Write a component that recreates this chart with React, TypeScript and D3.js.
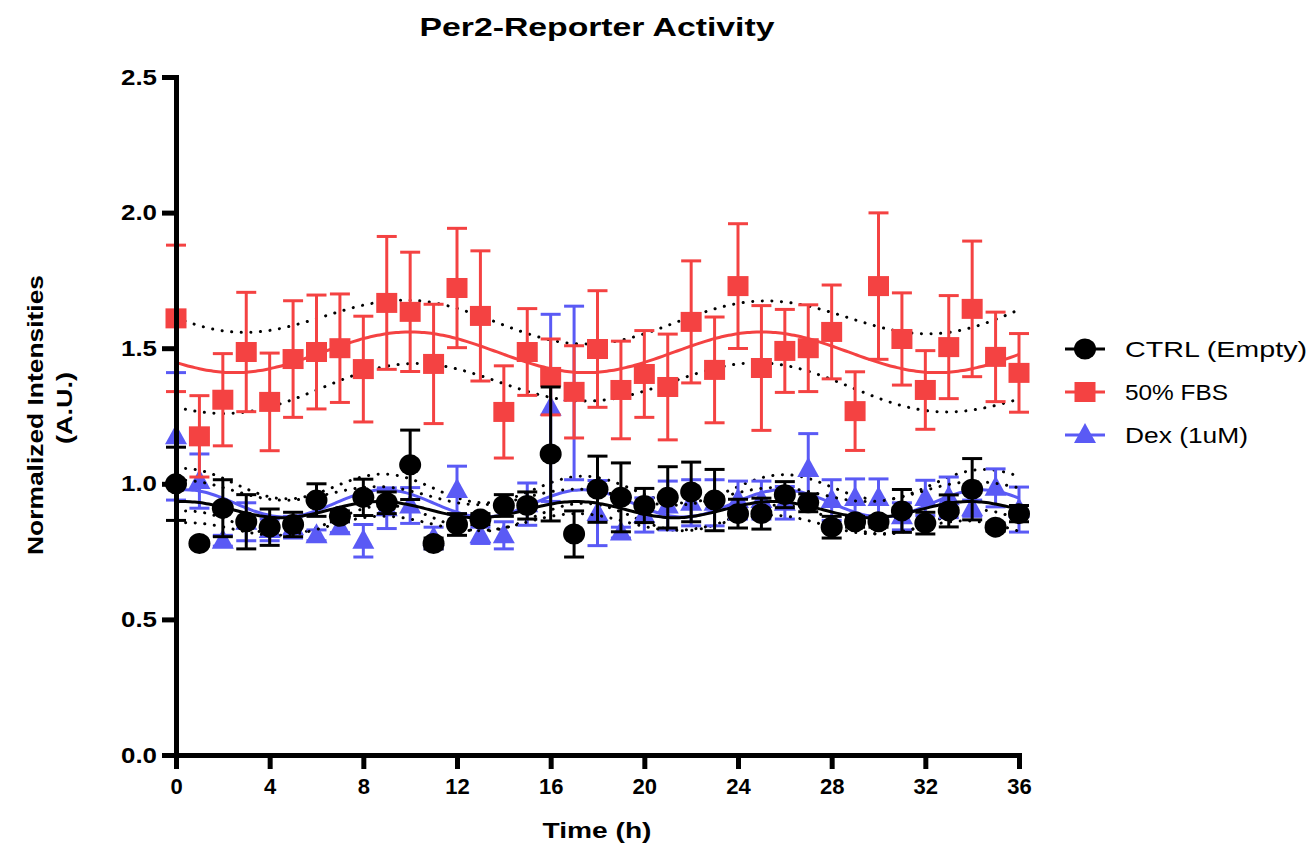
import React, { useEffect, useRef } from 'react';
import * as d3 from 'd3';

const hours = [0, 1, 2, 3, 4, 5, 6, 7, 8, 9, 10, 11, 12, 13, 14, 15, 16, 17, 18, 19, 20, 21, 22, 23, 24, 25, 26, 27, 28, 29, 30, 31, 32, 33, 34, 35, 36];

const ctrlMean = [1.0, 0.78, 0.91, 0.86, 0.84, 0.85, 0.94, 0.88, 0.95, 0.93, 1.07, 0.78, 0.85, 0.87, 0.92, 0.92, 1.11, 0.815, 0.98, 0.95, 0.92, 0.95, 0.97, 0.94, 0.89, 0.89, 0.96, 0.93, 0.84, 0.86, 0.86, 0.9, 0.855, 0.9, 0.98, 0.84, 0.89];
const ctrlErr = [0.135, 0.01, 0.105, 0.1, 0.067, 0.045, 0.06, 0.02, 0.067, 0.04, 0.128, 0.02, 0.04, 0.02, 0.04, 0.05, 0.247, 0.085, 0.122, 0.127, 0.063, 0.113, 0.11, 0.113, 0.053, 0.057, 0.048, 0.033, 0.04, 0.02, 0.02, 0.079, 0.04, 0.059, 0.113, 0.015, 0.03];

const fbsMean = [1.61, 1.175, 1.31, 1.486, 1.302, 1.46, 1.486, 1.5, 1.423, 1.667, 1.634, 1.442, 1.722, 1.619, 1.265, 1.486, 1.394, 1.339, 1.497, 1.346, 1.405, 1.357, 1.597, 1.42, 1.729, 1.427, 1.49, 1.5, 1.56, 1.268, 1.729, 1.534, 1.346, 1.504, 1.645, 1.468, 1.409];
const fbsErr = [0.27, 0.15, 0.17, 0.22, 0.18, 0.215, 0.21, 0.2, 0.195, 0.245, 0.22, 0.22, 0.22, 0.24, 0.17, 0.16, 0.14, 0.17, 0.215, 0.18, 0.16, 0.195, 0.225, 0.195, 0.23, 0.23, 0.153, 0.16, 0.173, 0.145, 0.27, 0.17, 0.145, 0.19, 0.25, 0.165, 0.145];

const dexMean = [1.175, 1.01, 0.79, 0.86, 0.83, 0.84, 0.81, 0.84, 0.79, 0.91, 0.92, 0.8, 0.977, 0.81, 0.81, 0.925, 1.28, 1.335, 0.892, 0.82, 0.885, 0.92, 0.93, 0.93, 0.94, 0.94, 0.93, 1.055, 0.94, 0.948, 0.948, 0.88, 0.948, 0.95, 0.91, 0.985, 0.905];
const dexErr = [0.235, 0.1, 0.02, 0.07, 0.04, 0.04, 0.02, 0.02, 0.06, 0.075, 0.066, 0.04, 0.088, 0.03, 0.05, 0.078, 0.345, 0.32, 0.12, 0.02, 0.063, 0.09, 0.085, 0.085, 0.07, 0.07, 0.06, 0.13, 0.075, 0.07, 0.07, 0.05, 0.065, 0.075, 0.03, 0.07, 0.083];

const seriesNames = ['CTRL (Empty)', '50% FBS', 'Dex (1uM)'];
const seriesColors = ['#000000', '#f44242', '#5a5af5'];
const seriesShapes = ['circle', 'square', 'triangle'];

// sine wave fit per series (ctrl, fbs, dex): baseline, amplitude, period (h), peak time (h)
const fitMean = [0.905, 1.485, 0.928];
const fitAmp = [0.03, 0.075, 0.05];
const fitPeriod = [8.4, 15, 8.5];
const fitPeak = [0.3, 10, 0.4];
// 95% CI half width in the middle and at the ends of the time range
const bandMid = [0.045, 0.105, 0.05];
const bandEdge = [0.08, 0.165, 0.08];

const yTicks = [0, 0.5, 1.0, 1.5, 2.0, 2.5];
const xTicks = [0, 4, 8, 12, 16, 20, 24, 28, 32, 36];

const FONT = 'Liberation Sans, Arial, Helvetica, sans-serif';

function drawMarker(g, shape, cx, cy, color) {
	if (shape === 'circle') {
		g.append('ellipse').attr('cx', cx).attr('cy', cy).attr('rx', 11).attr('ry', 10.5).attr('fill', color);
	} else if (shape === 'square') {
		g.append('rect').attr('x', cx - 10.5).attr('y', cy - 10).attr('width', 21).attr('height', 20).attr('fill', color);
	} else {
		g.append('path')
			.attr('d', `M${cx},${cy - 12}L${cx + 11},${cy + 8}L${cx - 11},${cy + 8}Z`)
			.attr('fill', color);
	}
}

export default function App() {
	const ref = useRef(null);

	useEffect(() => {
		const svg = d3.select(ref.current);
		svg.selectAll('*').remove();

		const x = d3.scaleLinear().domain([0, 36]).range([176, 1019]);
		const y = d3.scaleLinear().domain([0, 2.5]).range([755, 77]);

		const means = [ctrlMean, fbsMean, dexMean];
		const errs = [ctrlErr, fbsErr, dexErr];

		const fitAt = (s, t) => fitMean[s] + fitAmp[s] * Math.cos((2 * Math.PI * (t - fitPeak[s])) / fitPeriod[s]);
		const bandAt = (s, t) => bandMid[s] + (bandEdge[s] - bandMid[s]) * Math.pow((t - 18) / 18, 2);
		const tFine = d3.range(0, 36.001, 0.2);

		const line = d3.line().x((d) => x(d[0])).y((d) => y(d[1])).curve(d3.curveMonotoneX);

		// dex first, then fbs, ctrl on top
		[2, 1, 0].forEach((s) => {
			const g = svg.append('g').attr('class', 'series-' + s);
			const color = seriesColors[s];

			// confidence band (dotted)
			[1, -1].forEach((sign) => {
				g.append('path')
					.attr('d', line(tFine.map((t) => [t, fitAt(s, t) + sign * bandAt(s, t)])))
					.attr('fill', 'none')
					.attr('stroke', '#000')
					.attr('stroke-width', 3)
					.attr('stroke-linecap', 'round')
					.attr('stroke-dasharray', '0.1 9.5');
			});

			// error bars
			hours.forEach((h, i) => {
				const cx = x(h);
				const top = y(means[s][i] + errs[s][i]);
				const bot = y(means[s][i] - errs[s][i]);
				g.append('line').attr('x1', cx).attr('x2', cx).attr('y1', top).attr('y2', bot)
					.attr('stroke', color).attr('stroke-width', 3);
				[top, bot].forEach((yy) => {
					g.append('line').attr('x1', cx - 10).attr('x2', cx + 10).attr('y1', yy).attr('y2', yy)
						.attr('stroke', color).attr('stroke-width', 3);
				});
			});

			// fitted curve
			g.append('path')
				.attr('d', line(tFine.map((t) => [t, fitAt(s, t)])))
				.attr('fill', 'none')
				.attr('stroke', color)
				.attr('stroke-width', 3);

			hours.forEach((h, i) => {
				drawMarker(g, seriesShapes[s], x(h), y(means[s][i]), color);
			});
		});

		// axes
		const yAxis = svg.append('g')
			.attr('transform', 'translate(176,0)')
			.call(d3.axisLeft(y).tickValues(yTicks).tickFormat(d3.format('.1f')).tickSize(14).tickSizeOuter(0).tickPadding(5));
		const xAxis = svg.append('g')
			.attr('transform', 'translate(0,755)')
			.call(d3.axisBottom(x).tickValues(xTicks).tickSize(14).tickSizeOuter(0).tickPadding(9));

		[yAxis, xAxis].forEach((ax) => {
			ax.select('.domain').attr('stroke', '#000').attr('stroke-width', 5).attr('stroke-linecap', 'square');
			ax.selectAll('.tick line').attr('stroke', '#000').attr('stroke-width', 5);
			ax.selectAll('.tick text')
				.attr('fill', '#000')
				.style('font-family', FONT)
				.style('font-weight', 'bold')
				.style('font-size', '22px');
		});
		yAxis.selectAll('.tick text').attr('textLength', 36).attr('lengthAdjust', 'spacingAndGlyphs');

		// titles
		svg.append('text')
			.attr('x', 597).attr('y', 36)
			.attr('text-anchor', 'middle')
			.attr('textLength', 355).attr('lengthAdjust', 'spacingAndGlyphs')
			.style('font-family', FONT).style('font-weight', 'bold').style('font-size', '25px')
			.text('Per2-Reporter Activity');

		svg.append('text')
			.attr('x', 597).attr('y', 838)
			.attr('text-anchor', 'middle')
			.attr('textLength', 109).attr('lengthAdjust', 'spacingAndGlyphs')
			.style('font-family', FONT).style('font-weight', 'bold').style('font-size', '22px')
			.text('Time (h)');

		const yTitle = svg.append('g').attr('transform', 'translate(0,415) rotate(-90)');
		yTitle.append('text')
			.attr('x', 0).attr('y', 43)
			.attr('text-anchor', 'middle')
			.attr('textLength', 280).attr('lengthAdjust', 'spacingAndGlyphs')
			.style('font-family', FONT).style('font-weight', 'bold').style('font-size', '22px')
			.text('Normalized Intensities');
		yTitle.append('text')
			.attr('x', 7).attr('y', 72)
			.attr('text-anchor', 'middle')
			.attr('textLength', 72).attr('lengthAdjust', 'spacingAndGlyphs')
			.style('font-family', FONT).style('font-weight', 'bold').style('font-size', '22px')
			.text('(A.U.)');

		// legend
		const legendY = d3.scalePoint().domain(seriesNames).range([349, 435]);
		const legendWidths = [182, 103, 123];
		seriesNames.forEach((name, s) => {
			const ly = legendY(name);
			const g = svg.append('g').attr('class', 'legend');
			g.append('line').attr('x1', 1065).attr('x2', 1105).attr('y1', ly).attr('y2', ly)
				.attr('stroke', seriesColors[s]).attr('stroke-width', 3);
			drawMarker(g, seriesShapes[s], 1085, ly, seriesColors[s]);
			g.append('text')
				.attr('x', 1125).attr('y', ly + 8)
				.attr('textLength', legendWidths[s]).attr('lengthAdjust', 'spacingAndGlyphs')
				.style('font-family', FONT).style('font-size', '22px')
				.text(name);
		});
	}, []);

	return (
		<svg ref={ref} width={1313} height={844} style={{ position: 'absolute', left: 0, top: 0, background: '#fff' }} />
	);
}
